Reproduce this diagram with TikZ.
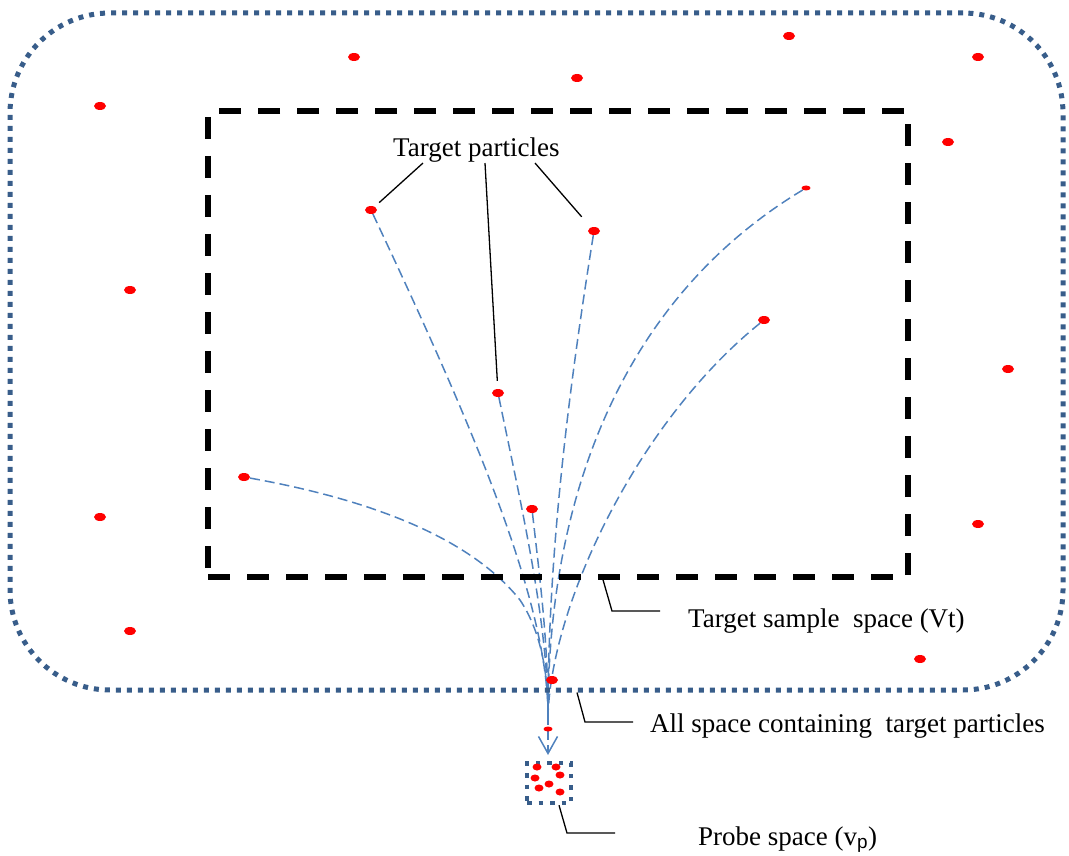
\documentclass[tikz,border=0pt]{standalone}
\usepackage{fontspec}
\setmainfont{Liberation Serif}
\setsansfont{Liberation Sans}
\usetikzlibrary{arrows.meta, positioning, shapes.geometric, backgrounds}
\definecolor{spaceblue}{RGB}{56,93,138}
\definecolor{flowblue}{RGB}{79,129,189}
\definecolor{dotred}{RGB}{255,0,0}

\begin{document}
\begin{tikzpicture}[x=1pt, y=-1pt,
  particle/.style={ellipse, fill=dotred, inner sep=0pt, minimum width=12pt, minimum height=8pt},
  smallparticle/.style={particle, minimum width=9pt, minimum height=5pt},
  flow/.style={flowblue, line width=1.5pt, dash pattern=on 10pt off 5pt},
  leader/.style={black, line width=1.3pt},
  spacelabel/.style={inner sep=0pt, anchor=base west, font=\fontsize{27}{32}\selectfont},
]
  \useasboundingbox (0,0) rectangle (1069,856);
  % Spaces
  \node[draw=spaceblue, line width=5pt, dash pattern=on 5pt off 6pt, rounded corners=100pt,
    minimum width=1053pt, minimum height=677pt] (all) at (536.5,351.5) {};
  \node[draw, line width=5.5pt, dash pattern=on 22pt off 17pt,
    minimum width=700pt, minimum height=466pt] (vt) at (558,344) {};
  \node[draw=spaceblue, line width=4.5pt, dash pattern=on 4.5pt off 7pt,
    minimum width=44pt, minimum height=40pt] (vp) at (549,783) {};
  % Particles that flow to the probe
  \node[particle] (pa) at (371,210) {};
  \node[particle] (pc) at (594,231) {};
  \node[particle] (pd) at (498,393) {};
  \node[particle] (pe) at (532,509) {};
  \node[smallparticle] (pf) at (806,188) {};
  \node[particle] (pg) at (764,320) {};
  \node[particle] (ph) at (244,477) {};
  % Other particles
  \foreach \x/\y [count=\i] in {100/106, 354/57, 577/78, 789/36, 978/57, 948/142, 130/290,
      1008/369, 100/517, 978/524, 130/631, 920/659, 552/680}
    \node[particle] (s\i) at (\x,\y) {};
  \node[smallparticle] (s14) at (548,729) {};
  % Probe particles
  \foreach \x/\y [count=\i] in {537/767, 556/767, 560/775, 535/778, 549/784, 539/788, 560/792}
    \node[particle, minimum width=9pt, minimum height=7pt] (q\i) at (\x,\y) {};
  % Flows
  \coordinate (cv) at (548,715);
  \coordinate (tip) at (548,755);
  \begin{scope}[on background layer]
    \draw[flow] (pa) .. controls (470,420) and (548,600) .. (cv);
    \draw[flow] (pc) .. controls (567,400) and (548,560) .. (cv);
    \draw[flow] (pd) .. controls (520,500) and (548,620) .. (cv);
    \draw[flow] (pe) .. controls (540,580) and (548,640) .. (cv);
    \draw[flow] (pf) .. controls (620,300) and (548,500) .. (cv);
    \draw[flow] (pg) .. controls (640,420) and (552,600) .. (cv);
    \draw[flow] (ph) .. controls (400,505) and (480,550) .. (520,600)
      .. controls (540,630) and (548,670) .. (cv);
    \draw[flow, -{Straight Barb[length=17pt, width=19pt]}] (cv) -- (tip);
  \end{scope}
  % Labels
  \node[spacelabel] (tplabel) at (393,157) {Target particles};
  \node[spacelabel] (vtlabel) at (688,627) {Target sample\ \ space (Vt)};
  \node[spacelabel] (alllabel) at (650,732) {All space containing\ \ target particles};
  \node[spacelabel] (vplabel) at (698,845) {Probe space (v\textsubscript{\sffamily p})};
  % Leaders
  \draw[leader, shorten >=6pt] ([xshift=30pt]tplabel.south west) -- (pa);
  \draw[leader, shorten >=8pt] ([xshift=92pt]tplabel.south west) -- (pd);
  \draw[leader, shorten >=14pt] ([xshift=142pt]tplabel.south west) -- (pc);
  \draw[leader] (vt.south -| 603,0) -- (612,611) -- (660,611);
  \draw[leader] (all.south -| 577,0) -- (585,722) -- (633,722);
  \draw[leader] (vp.south -| 559,0) -- (567,833) -- (615,833);
\end{tikzpicture}
\end{document}
